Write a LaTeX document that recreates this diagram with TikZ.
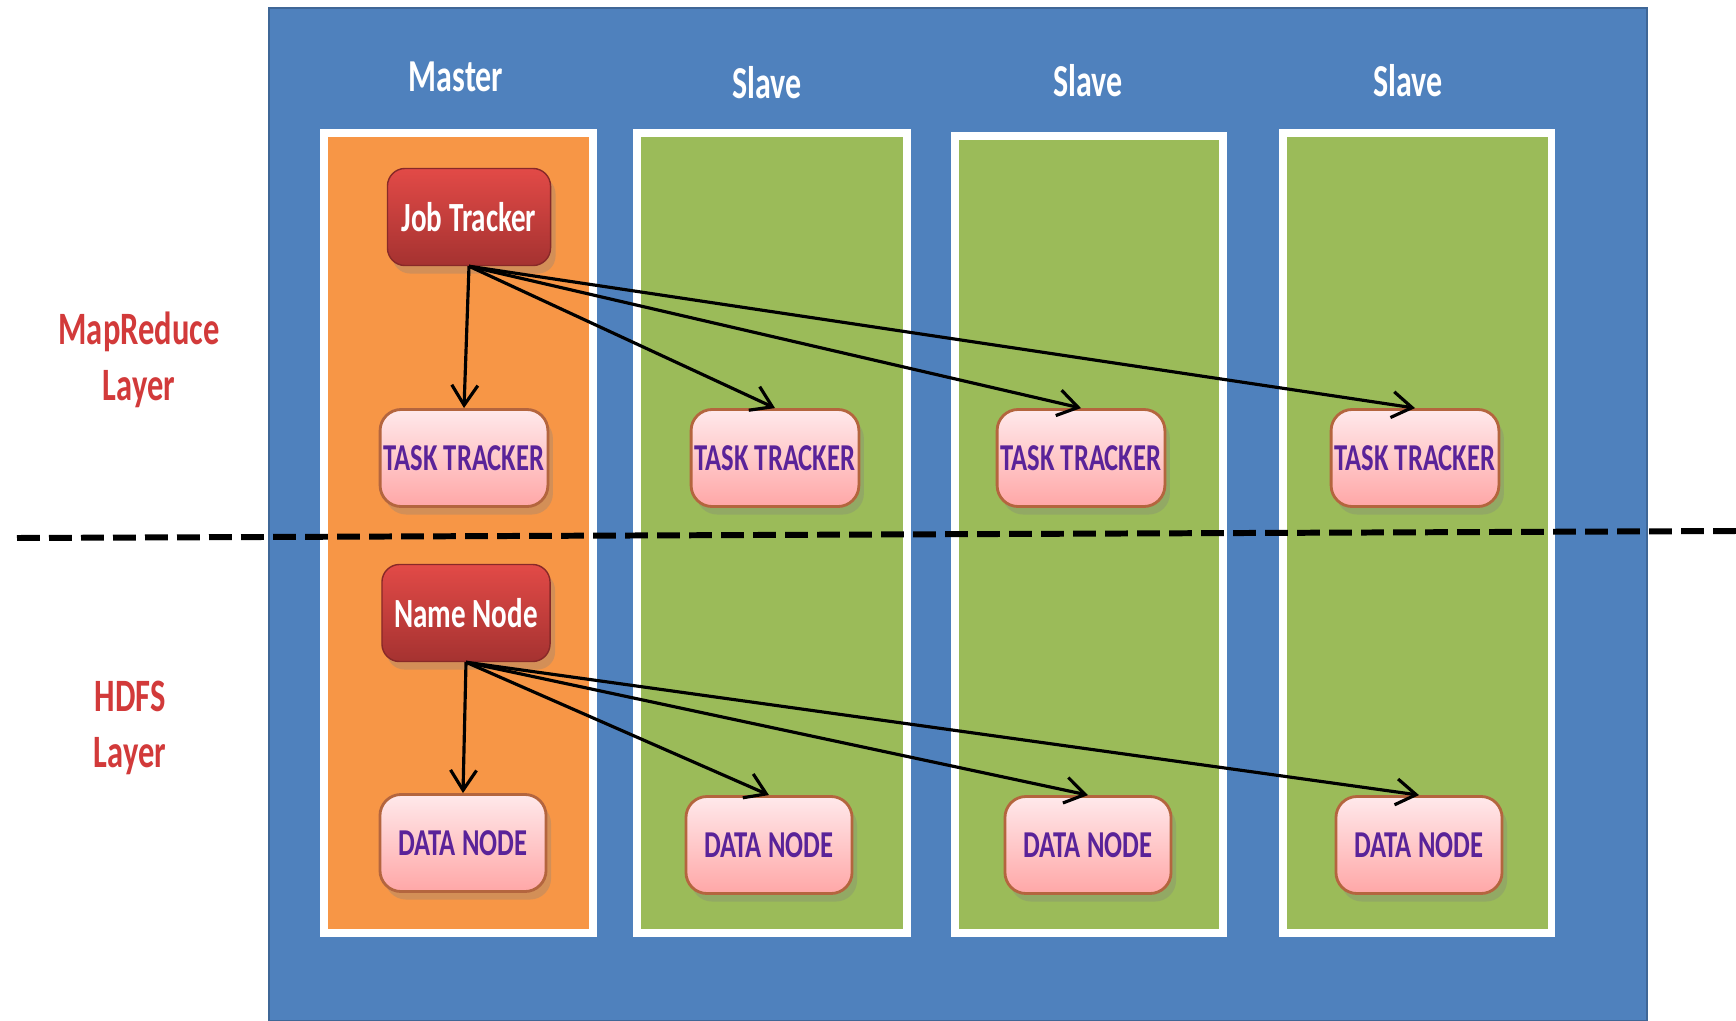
\documentclass[tikz,border=0pt]{standalone}
\usepackage{fontspec}
\setmainfont{Carlito}
\newfontfamily\narrowfont[FakeStretch=0.7]{Carlito}
\usepackage{xcolor}
\usetikzlibrary{arrows.meta,positioning,shadows}
\definecolor{panelblue}{HTML}{4F81BD}
\definecolor{masterorange}{HTML}{F79646}
\definecolor{slavegreen}{HTML}{9BBB59}
\definecolor{jobred}{HTML}{C23B39}
\definecolor{jobredtop}{HTML}{E24A47}
\definecolor{pinktop}{HTML}{FFE9EB}
\definecolor{pinkbot}{HTML}{FFA7A7}
\definecolor{pinkedge}{HTML}{B4653E}
\definecolor{trackpurple}{HTML}{5A2399}
\definecolor{layerred}{HTML}{D23A3A}
\tikzset{
  panel/.style={fill=panelblue,draw=panelblue!80!black,line width=0.6pt},
  column/.style={draw=white,line width=2pt},
  colhead/.style={text=white,font=\narrowfont\fontsize{13}{15}\selectfont\bfseries},
  layerlabel/.style={text=layerred,align=center,font=\narrowfont\fontsize{13.2}{16}\selectfont\bfseries},
  jobbox/.style={rectangle,rounded corners=5pt,draw=jobred!70!black,top color=jobredtop,bottom color=jobred!85!black,
    text=white,minimum height=9.7mm,inner xsep=2pt,font=\narrowfont\fontsize{11.8}{14}\selectfont\bfseries,
    drop shadow={opacity=0.3,shadow xshift=0.5mm,shadow yshift=-0.8mm}},
  trackbox/.style={rectangle,rounded corners=6pt,draw=pinkedge,line width=0.8pt,top color=pinktop,bottom color=pinkbot,
    text=trackpurple,minimum width=16.6mm,minimum height=9.7mm,inner xsep=1pt,font=\narrowfont\fontsize{10.8}{13}\selectfont\bfseries,
    drop shadow={opacity=0.3,shadow xshift=0.5mm,shadow yshift=-0.8mm}},
  arr/.style={-{Straight Barb[length=2mm,width=2.6mm]},line width=0.9pt,color=black},
  split/.style={line width=1.7pt,dash pattern=on 6.5pt off 2.6pt}
}
\begin{document}
\begin{tikzpicture}[x=0.01cm,y=-0.01cm]
  \useasboundingbox[fill=white] (0,0) rectangle (1736,1021);
  % outer panel and the four machines
  \path[panel] (269,8) rectangle (1647,1021);
  \path[column,fill=masterorange] (324,133) rectangle (593,933);
  \path[column,fill=slavegreen] (637,133) rectangle (907,933);
  \path[column,fill=slavegreen] (955,136) rectangle (1223,933);
  \path[column,fill=slavegreen] (1283,133) rectangle (1551,933);
  \node[colhead] (mhead) at (456,77) {Master};
  \node[colhead] (s1head) at (767,83) {Slave};
  \node[colhead] (s2head) at (1088,81) {Slave};
  \node[colhead] (s3head) at (1408,81) {Slave};
  % layer names
  \node[layerlabel] (mrlayer) at (139,360) {MapReduce\\Layer};
  \node[layerlabel] (hdfslayer) at (130,728) {HDFS\\Layer};
  % MapReduce layer
  \node[jobbox,minimum width=16.3mm] (jt) at (469,217) {Job Tracker};
  \node[trackbox] (tt0) at (464,458) {TASK TRACKER};
  \node[trackbox] (tt1) at (775,458) {TASK TRACKER};
  \node[trackbox] (tt2) at (1081,458) {TASK TRACKER};
  \node[trackbox] (tt3) at (1415,458) {TASK TRACKER};
  % HDFS layer
  \node[jobbox,minimum width=16.8mm] (nn) at (466,613) {Name Node};
  \node[trackbox] (dn0) at (463,843) {DATA NODE};
  \node[trackbox] (dn1) at (769,845) {DATA NODE};
  \node[trackbox] (dn2) at (1088,845) {DATA NODE};
  \node[trackbox] (dn3) at (1419,845) {DATA NODE};
  % boundary between the layers
  \coordinate (splitl) at (17,538);
  \coordinate (splitr) at (1736,531);
  \draw[split] (splitl) -- (splitr);
  \draw[arr] (jt.south) -- (tt0.north);
  \draw[arr] (jt.south) -- (tt1.north);
  \draw[arr] (jt.south) -- (tt2.north);
  \draw[arr] (jt.south) -- (tt3.north);
  \draw[arr] (nn.south) -- (dn0.north);
  \draw[arr] (nn.south) -- (dn1.north);
  \draw[arr] (nn.south) -- (dn2.north);
  \draw[arr] (nn.south) -- (dn3.north);
\end{tikzpicture}
\end{document}
